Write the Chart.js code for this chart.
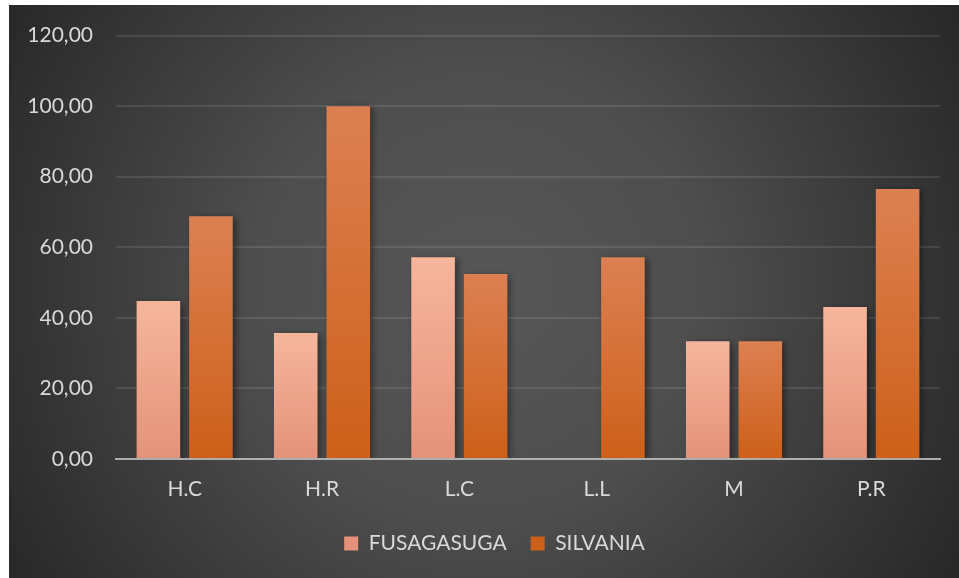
<!DOCTYPE html>
<html lang="es">
<head>
  <meta charset="UTF-8">
  <title>Fusagasuga vs Silvania</title>
  <script src="https://cdn.jsdelivr.net/npm/chart.js"></script>
  <style>
    html, body {
      margin: 0;
      padding: 0;
      background: #fff;
    }
    #chart-container {
      width: 959px;
      height: 578px;
    }
  </style>
</head>
<body>
  <div id="chart-container">
    <canvas id="barChart" width="959" height="578"></canvas>
  </div>

  <script>
    const categories = ['H.C', 'H.R', 'L.C', 'L.L', 'M', 'P.R'];
    const fusagasuga = [44.8, 35.7, 57.2, 0, 33.4, 43.1];
    const silvania = [68.8, 100, 52.4, 57.2, 33.4, 76.5];
    const yTicks = [0, 20, 40, 60, 80, 100, 120];

    const textColor = '#d9d9d9';
    const fontFamily = 'Lato, "Open Sans", sans-serif';

    // gradient per bar, from its top to the baseline
    function barFill(top, bottom, solid) {
      return function (ctx) {
        if (ctx.type !== 'data') return solid;
        const chart = ctx.chart;
        const y = chart.scales.y;
        if (!y || !chart.chartArea) return solid;
        const yTop = y.getPixelForValue(ctx.raw);
        const yBot = y.getPixelForValue(0);
        if (!isFinite(yTop) || Math.abs(yBot - yTop) < 1) return solid;
        const g = chart.ctx.createLinearGradient(0, yTop, 0, yBot);
        g.addColorStop(0, top);
        g.addColorStop(1, bottom);
        return g;
      };
    }

    const panelBg = {
      id: 'panelBg',
      beforeDraw(chart) {
        const c = chart.ctx;
        c.save();
        c.fillStyle = '#ffffff';
        c.fillRect(0, 0, chart.width, chart.height);
        const g = c.createRadialGradient(480, 290, 0, 480, 290, 560);
        g.addColorStop(0, '#575757');
        g.addColorStop(0.4, '#4e4e4e');
        g.addColorStop(1, '#272727');
        c.fillStyle = g;
        c.fillRect(9, 5, 950, 573);
        c.restore();
      }
    };

    const barShadow = {
      id: 'barShadow',
      beforeDatasetsDraw(chart) {
        const c = chart.ctx;
        c.save();
        c.shadowColor = 'rgba(0,0,0,0.45)';
        c.shadowBlur = 7;
        c.shadowOffsetX = 3;
        c.shadowOffsetY = 2;
      },
      afterDatasetsDraw(chart) {
        chart.ctx.restore();
      }
    };

    // nudge the legend a bit right, it sits off-centre in the original
    const legendShift = {
      id: 'legendShift',
      afterLayout(chart) {
        if (!chart.legend) return;
        chart.legend.left += 20;
        chart.legend.right += 20;
      }
    };

    new Chart(document.getElementById('barChart'), {
      type: 'bar',
      data: {
        labels: categories,
        datasets: [
          {
            label: 'FUSAGASUGA',
            data: fusagasuga,
            backgroundColor: barFill('#f6b69c', '#e4927a', '#f2ab8f')
          },
          {
            label: 'SILVANIA',
            data: silvania,
            backgroundColor: barFill('#dc8052', '#cd6019', '#d6692a')
          }
        ]
      },
      options: {
        responsive: false,
        animation: false,
        devicePixelRatio: 1,
        barPercentage: 0.83,
        categoryPercentage: 0.765,
        layout: {
          padding: { left: 9, right: 19, top: 34, bottom: 14 }
        },
        plugins: {
          tooltip: { enabled: false },
          legend: {
            position: 'bottom',
            labels: {
              color: textColor,
              boxWidth: 14,
              boxHeight: 14,
              padding: 24,
              font: { family: fontFamily, size: 21 }
            }
          }
        },
        scales: {
          x: {
            grid: { display: false, drawTicks: false },
            border: { display: true, color: 'rgba(190,190,190,0.85)', width: 2, z: 1 },
            ticks: {
              color: textColor,
              padding: 18,
              font: { family: fontFamily, size: 21 }
            },
            afterFit(scale) { scale.height = 50; }
          },
          y: {
            min: 0,
            max: 120,
            afterBuildTicks(scale) {
              scale.ticks = yTicks.map(v => ({ value: v }));
            },
            grid: { color: 'rgba(255,255,255,0.1)', lineWidth: 2, drawTicks: false },
            border: { display: false },
            ticks: {
              color: textColor,
              padding: 23,
              font: { family: fontFamily, size: 21 },
              callback: v => v.toFixed(2).replace('.', ',')
            },
            afterFit(scale) { scale.width = 107; }
          }
        }
      },
      plugins: [panelBg, barShadow, legendShift]
    });
  </script>
</body>
</html>
